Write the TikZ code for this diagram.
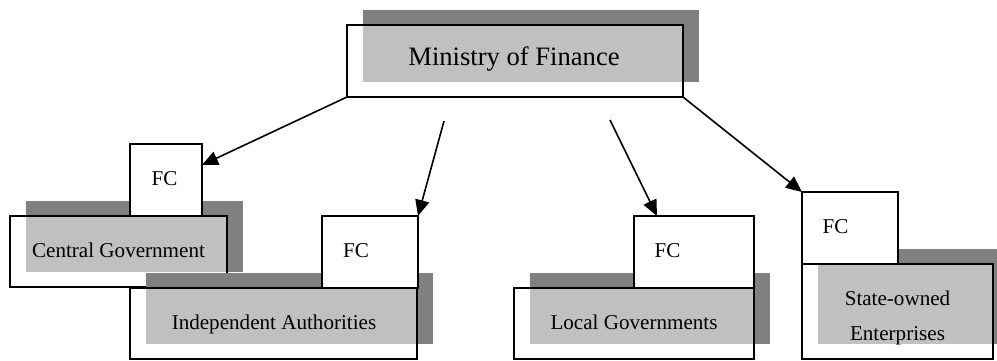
\documentclass[tikz,border=0pt]{standalone}
\usepackage{fontspec}
\setmainfont{Liberation Serif}
\usetikzlibrary{arrows.meta}
\definecolor{shadowgray}{HTML}{808080}
\definecolor{panelgray}{HTML}{C0C0C0}
\tikzset{
  outline/.style={draw=black, line width=1.6pt, inner sep=0pt, outer sep=0pt, anchor=north west, rectangle},
  fcbox/.style={draw=black, line width=1.6pt, fill=white, inner sep=0pt, outer sep=0pt, anchor=north west, rectangle},
  bigtext/.style={font=\fontsize{26.6}{32}\selectfont, anchor=base, inner sep=0pt},
  smalltext/.style={font=\fontsize{21.1}{35}\selectfont, anchor=base, inner sep=0pt},
  link/.style={line width=1.6pt, -{Triangle[length=16pt,width=14pt]}},
}
% #1 name, (#2,#3) top-left, (#4,#5) bottom-right, in pixel units (y downwards)
\newcommand\OrgBox[5]{%
  \fill[shadowgray] (#2+16,#3-15) rectangle (#4+16,#5-15);
  \fill[white] (#2,#3) rectangle (#4,#5);
  \fill[panelgray] (#2+16,#3) rectangle (#4,#5-15);
  \node[outline, minimum width=#4pt-#2pt, minimum height=#5pt-#3pt] (#1) at (#2,#3) {};
}
\begin{document}
\begin{tikzpicture}[x=1pt, y=-1pt]
\useasboundingbox (0,0) rectangle (997,360);
\clip (0,0) rectangle (997,360);

% Ministry of Finance
\OrgBox{mof}{347}{25}{683}{97}
\node[bigtext] (mofT) at (514,65) {Ministry of Finance};

% Central Government
\OrgBox{cg}{10}{216}{227}{287}
\node[fcbox, minimum width=72pt, minimum height=72pt] (fc1) at (130,144) {};
\node[smalltext] (fc1T) at (164.5,185) {FC};
\node[smalltext] (cgT) at (118.5,257) {Central Government};

% Independent Authorities
\OrgBox{ia}{130}{288}{417}{359}
\node[fcbox, minimum width=96pt, minimum height=72pt] (fc2) at (322,216) {};
\node[smalltext] (fc2T) at (356,257) {FC};
\node[smalltext] (iaT) at (274,329) {Independent Authorities};

% Local Governments
\OrgBox{lg}{514}{288}{754}{359}
\node[fcbox, minimum width=120pt, minimum height=72pt] (fc3) at (634,216) {};
\node[smalltext] (fc3T) at (667.5,257) {FC};
\node[smalltext] (lgT) at (634,329) {Local Governments};

% State-owned Enterprises
\OrgBox{soe}{802}{264}{993}{359}
\node[fcbox, minimum width=96pt, minimum height=72pt] (fc4) at (802,192) {};
\node[smalltext] (fc4T) at (835.5,233) {FC};
\node[smalltext, anchor=center, align=center] (soeT) at (897.5,317.7) {State-owned\\Enterprises};

% connectors
\coordinate (s2) at (444,121);
\coordinate (s3) at (610,120);
\draw[link] (mof.south west) -- ([yshift=-21pt]fc1.north east);
\draw[link] (s2) -- (fc2.north east);
\draw[link] (s3) -- ([xshift=23pt]fc3.north west);
\draw[link] (mof.south east) -- (fc4.north west);
\end{tikzpicture}
\end{document}
